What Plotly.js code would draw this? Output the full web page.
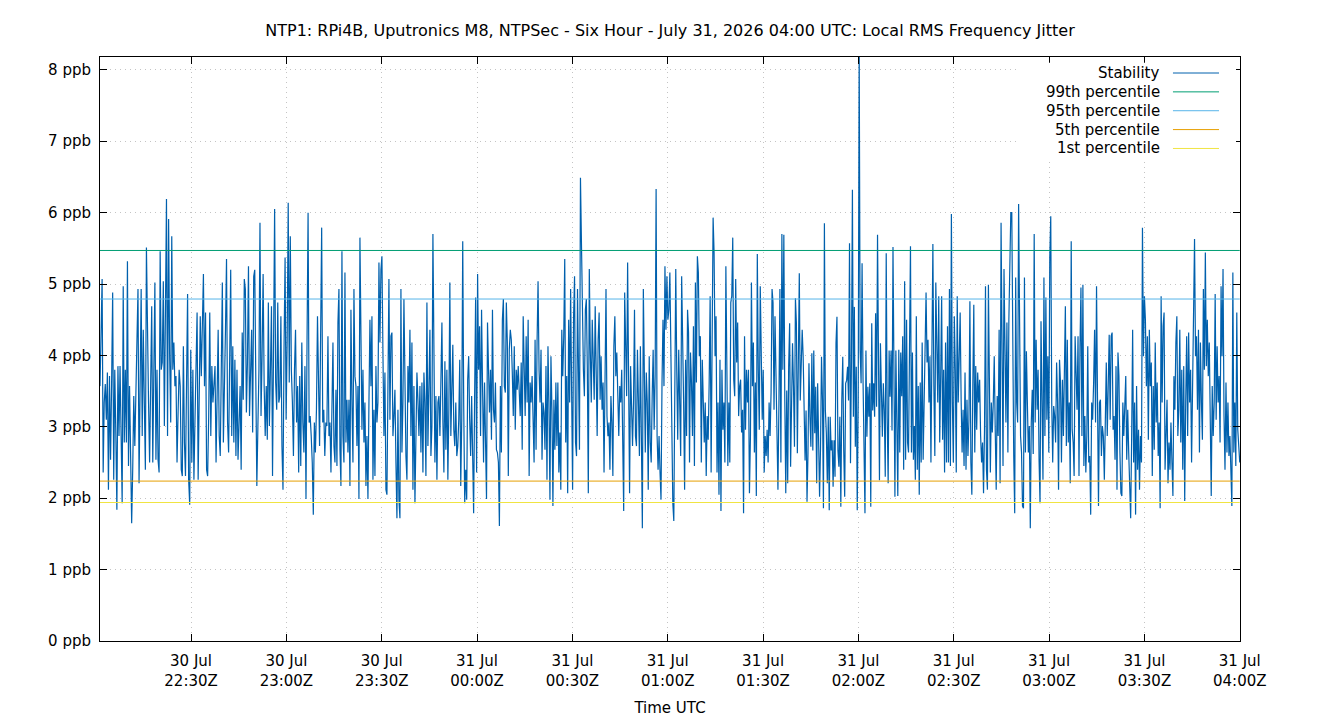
<!DOCTYPE html>
<html>
<head>
<meta charset="utf-8">
<script src="https://cdn.plot.ly/plotly-3.0.1.min.js"></script>
<style>
  html, body { margin: 0; padding: 0; background: #ffffff; }
  #chart { width: 1340px; height: 720px; }
</style>
</head>
<body>
<div id="chart"></div>
<script>
// Local RMS frequency jitter (ppb), six-hour window, in ten consecutive blocks
const jitterPart1 = [3.57, 4.2, 5.07, 2.36, 3.34, 3.6, 3.1, 3.76, 2.12, 3.71, 2.54, 3.6, 4.88, 2.26, 3.8, 2.9, 1.84, 3.85, 2.87, 3.85, 2.6, 1.93, 4.97, 2.78, 3.8, 2.78, 5.32, 2.45, 3.57, 2.17, 1.65, 2.4, 3.43, 2.73, 3.5, 4.55, 4.93, 2.21, 3.8, 4.93, 2.87, 4.36, 3.34, 2.4, 5.51, 4.1, 3.34, 2.5, 3.7, 4.69, 2.5, 3.8, 5.02, 2.54, 3.8, 2.54, 2.36, 5.46, 3.8, 3.9, 5.04, 3.01, 4.36, 6.19, 2.87, 5.91, 3.99, 3.06, 5.67, 3.8, 4.18, 3.57, 3.71, 2.5, 3.2, 3.8, 3.57, 2.4, 2.31, 4.13, 2.78, 2.31, 3.6, 4.86, 2.26, 1.91, 4.08, 2.5, 3.8, 2.26, 3.1, 3.8, 4.6, 2.26, 3.34, 4.55, 3.71, 4.27, 5.14, 3.57, 4.6, 2.4, 2.31, 3.15, 4.6, 2.87, 3.85, 3.34];
const jitterPart2 = [3.57, 3.85, 2.5, 3.4, 4.36, 2.87, 2.59, 3.8, 5.02, 2.78, 3.94, 4.36, 5.35, 3.06, 2.64, 3.9, 5.2, 2.87, 4.13, 2.78, 3.94, 2.59, 3.8, 2.54, 3.2, 3.57, 2.4, 4.32, 3.38, 5.07, 4.93, 3.2, 3.9, 5.25, 3.15, 3.85, 4.36, 2.92, 5.11, 5.2, 3.43, 2.17, 3.0, 3.8, 5.86, 3.15, 3.99, 5.14, 3.57, 2.87, 3.57, 2.82, 4.74, 3.01, 3.8, 4.69, 2.31, 4.2, 6.05, 3.62, 3.24, 4.74, 3.34, 3.43, 4.55, 2.73, 2.12, 4.1, 5.37, 3.1, 4.22, 6.14, 3.62, 5.67, 3.8, 3.34, 2.59, 3.8, 4.36, 3.06, 3.57, 2.36, 3.71, 2.45, 4.18, 3.06, 2.64, 3.85, 1.99, 4.2, 6.0, 3.06, 3.15, 2.87, 2.5, 1.77, 3.06, 2.64, 3.24, 4.55, 3.34, 2.73, 4.3, 5.79, 3.06, 3.24, 2.59, 3.06, 3.01];
const jitterPart3 = [4.27, 2.87, 3.06, 2.36, 3.1, 4.18, 2.73, 2.5, 3.52, 2.45, 4.46, 4.93, 2.68, 2.17, 5.46, 2.87, 2.5, 5.16, 2.78, 3.38, 2.64, 3.38, 2.17, 4.64, 3.34, 2.5, 4.93, 3.71, 3.57, 2.73, 3.57, 1.99, 5.65, 3.52, 2.96, 3.8, 2.78, 3.34, 2.17, 2.87, 1.99, 3.34, 4.5, 3.57, 4.55, 2.26, 3.24, 2.31, 3.85, 3.06, 3.34, 5.3, 4.18, 5.2, 5.39, 4.04, 2.87, 3.76, 2.12, 2.05, 3.43, 5.07, 3.1, 4.27, 4.32, 2.87, 3.15, 3.52, 2.5, 1.72, 3.24, 1.98, 1.72, 4.93, 2.64, 3.34, 4.79, 3.62, 2.59, 2.26, 3.85, 3.34, 4.36, 2.87, 4.18, 2.12, 3.57, 1.93, 3.34, 3.76, 3.38, 2.87, 3.57, 2.64, 3.62, 2.36, 3.76, 3.34, 2.31, 4.74, 2.73, 3.34, 4.36, 2.59, 3.01, 5.7, 3.99, 2.5, 3.43, 2.26, 3.34, 3.43, 2.87, 3.62];
const jitterPart4 = [4.46, 3.06, 2.36, 3.92, 2.68, 3.8, 2.26, 3.24, 5.02, 2.87, 3.57, 4.15, 2.96, 2.73, 3.34, 2.59, 2.73, 3.1, 3.94, 2.17, 3.1, 5.6, 3.29, 1.93, 2.4, 1.98, 3.66, 3.99, 3.1, 2.59, 3.43, 2.17, 1.79, 3.43, 4.81, 2.36, 5.14, 3.8, 4.41, 2.87, 4.64, 3.57, 2.5, 3.62, 2.87, 1.99, 4.46, 3.8, 3.2, 3.8, 2.82, 4.64, 3.24, 3.06, 3.62, 2.68, 2.64, 2.5, 1.61, 3.57, 2.64, 4.5, 4.79, 3.57, 3.48, 4.74, 4.18, 2.31, 4.08, 4.36, 4.22, 3.76, 3.15, 4.13, 2.96, 3.8, 3.52, 3.85, 3.43, 3.15, 3.9, 2.68, 4.55, 3.71, 3.15, 4.27, 3.34, 4.5, 2.31, 3.62, 3.34, 3.71, 2.96, 2.5, 4.22, 2.68, 4.18, 5.04, 3.8, 3.34, 4.08, 2.54, 3.34, 3.2, 2.68, 3.85, 2.26, 4.13, 3.34, 1.98, 3.99, 3.24, 1.89, 3.38, 2.68];
const jitterPart5 = [3.62, 2.73, 3.62, 2.36, 2.92, 2.12, 4.36, 3.71, 4.27, 5.35, 2.78, 3.71, 2.07, 4.5, 3.34, 4.93, 3.34, 2.12, 4.55, 5.11, 2.78, 2.59, 4.93, 3.34, 2.68, 6.49, 5.49, 4.88, 3.8, 3.43, 4.64, 4.79, 3.8, 2.07, 5.21, 4.08, 3.34, 4.5, 3.9, 3.38, 4.69, 3.8, 2.87, 4.22, 4.6, 3.38, 3.99, 3.24, 3.62, 2.36, 3.57, 4.93, 3.15, 2.87, 3.06, 2.4, 3.43, 3.06, 2.31, 4.13, 4.55, 3.71, 4.04, 3.29, 2.87, 3.57, 3.34, 3.8, 2.59, 1.82, 4.88, 3.85, 3.43, 5.3, 3.06, 2.07, 3.85, 3.1, 2.73, 3.34, 4.64, 2.87, 2.73, 4.08, 3.43, 2.59, 4.13, 2.21, 1.58, 4.93, 3.34, 2.64, 3.76, 3.34, 2.12, 3.99, 2.78, 2.5, 3.43, 4.08, 2.96, 3.71, 6.33, 2.87, 2.4, 2.87, 2.36, 1.98, 3.62, 4.5, 3.57, 5.25, 4.36, 5.11, 4.5, 4.64];
const jitterPart6 = [5.16, 3.8, 2.59, 1.93, 1.68, 3.34, 5.21, 3.8, 2.82, 4.08, 3.24, 2.59, 5.11, 4.32, 3.34, 2.12, 3.94, 2.87, 4.64, 4.32, 2.5, 4.04, 3.62, 2.87, 4.41, 2.45, 5.02, 3.62, 5.39, 5.16, 3.99, 4.27, 2.5, 3.94, 3.52, 2.78, 3.34, 2.31, 3.15, 2.82, 3.62, 4.83, 2.36, 4.6, 5.93, 5.44, 3.99, 4.55, 2.36, 3.34, 2.05, 3.94, 1.82, 3.8, 2.96, 3.34, 2.5, 5.25, 3.34, 2.45, 3.34, 2.5, 4.74, 4.83, 5.65, 3.66, 3.43, 5.07, 3.9, 4.46, 3.15, 3.57, 3.66, 2.92, 3.24, 1.79, 4.27, 2.96, 3.8, 3.34, 3.8, 2.07, 2.87, 5.02, 3.57, 4.18, 2.64, 3.62, 2.03, 5.42, 3.8, 2.96, 4.97, 3.66, 3.1, 3.8, 2.36, 2.87, 2.59, 2.96, 2.5, 3.34, 2.87, 3.48, 4.93, 4.74, 3.24, 4.55, 3.71, 2.59, 2.12, 3.34, 4.93, 2.5, 5.7, 3.8];
const jitterPart7 = [5.69, 3.37, 2.07, 3.51, 2.21, 3.84, 4.45, 2.44, 3.61, 4.17, 3.56, 2.72, 4.8, 4.45, 2.63, 3.84, 5.15, 3.37, 3.98, 4.36, 3.98, 2.95, 2.53, 3.23, 1.95, 2.63, 3.89, 3.14, 2.72, 4.03, 2.67, 4.07, 2.91, 3.56, 2.21, 3.61, 2.67, 2.02, 2.72, 3.98, 3.37, 1.86, 5.85, 3.23, 2.91, 2.21, 3.14, 1.83, 3.14, 2.67, 2.81, 2.16, 2.81, 2.3, 4.17, 4.54, 2.67, 2.44, 3.14, 1.88, 3.37, 3.98, 2.67, 2.02, 3.61, 3.65, 3.84, 3.37, 5.57, 2.49, 3.93, 6.32, 3.14, 4.68, 2.72, 3.84, 1.83, 3.37, 8.35, 4.07, 3.61, 5.29, 3.65, 2.67, 1.79, 4.07, 2.86, 3.56, 3.14, 3.61, 1.88, 4.45, 3.23, 3.61, 3.14, 4.59, 3.28, 5.69, 4.07, 2.25, 4.17, 3.14, 2.86, 3.61, 3.23, 2.3, 5.43, 3.14, 2.21, 4.07, 3.42, 4.07, 2.95, 5.52, 3.61, 2.02, 4.07, 2.95];
const jitterPart8 = [2.03, 4.08, 2.64, 4.04, 3.43, 4.27, 2.4, 5.04, 2.54, 4.5, 2.78, 2.64, 3.71, 5.53, 2.64, 4.04, 2.54, 3.01, 2.26, 4.55, 2.4, 3.57, 2.05, 3.62, 2.5, 4.18, 2.54, 3.48, 4.27, 4.88, 3.9, 4.22, 3.34, 3.99, 2.5, 4.74, 5.56, 3.57, 2.59, 5.02, 3.8, 3.34, 4.83, 2.78, 3.71, 4.83, 2.82, 3.8, 2.36, 4.18, 2.5, 4.41, 2.5, 4.93, 2.45, 5.98, 3.34, 2.5, 4.55, 3.8, 2.36, 4.83, 3.34, 3.8, 4.6, 3.38, 2.64, 3.24, 2.45, 3.76, 2.4, 3.38, 2.59, 3.1, 4.76, 2.5, 2.05, 3.57, 4.71, 2.64, 3.85, 2.96, 3.76, 3.34, 3.66, 2.87, 2.5, 2.78, 2.07, 2.96, 4.97, 2.4, 2.12, 4.99, 3.1, 2.36, 3.34, 2.92, 3.34, 3.99, 2.96, 2.12, 3.43, 2.87, 4.36, 2.21, 5.86, 3.34, 2.45, 5.21, 3.62, 3.06, 4.46, 2.64, 4.5, 5.67, 6.0];
const jitterPart9 = [6.0, 3.85, 2.59, 1.79, 5.09, 3.34, 3.06, 6.12, 4.36, 2.87, 2.64, 1.89, 1.86, 5.09, 2.64, 4.06, 3.34, 2.64, 3.01, 1.58, 3.06, 3.52, 2.62, 5.7, 3.06, 4.22, 3.24, 3.8, 2.54, 1.93, 4.48, 2.68, 2.26, 5.09, 2.87, 4.81, 3.1, 3.99, 2.64, 5.37, 5.95, 3.34, 2.5, 3.29, 3.15, 2.78, 3.9, 3.34, 2.12, 3.94, 3.62, 2.5, 3.66, 2.87, 3.62, 4.69, 2.73, 4.22, 2.78, 3.34, 2.21, 5.6, 2.96, 2.78, 2.31, 4.27, 3.76, 3.24, 4.27, 2.31, 4.13, 4.95, 2.87, 4.99, 2.45, 3.15, 2.36, 2.87, 4.13, 2.5, 2.59, 1.77, 3.34, 3.1, 3.62, 4.36, 3.06, 4.97, 3.38, 1.89, 3.34, 3.38, 2.59, 3.01, 2.87, 2.26, 3.06, 3.9, 2.87, 3.99, 4.29, 3.1, 4.27, 4.32, 2.96, 3.15, 2.54, 3.85, 2.12, 4.04, 3.71, 2.64, 2.07, 2.03, 3.34, 2.87, 3.34];
const jitterPart10 = [3.71, 2.54, 3.24, 2.64, 2.17, 1.72, 2.87, 4.36, 2.5, 3.34, 1.77, 3.57, 2.4, 2.96, 2.12, 2.87, 2.5, 5.79, 3.99, 4.83, 4.5, 3.57, 4.27, 2.82, 4.36, 3.57, 3.9, 2.31, 3.57, 2.68, 4.18, 3.06, 3.62, 2.59, 3.06, 1.86, 4.83, 3.34, 4.41, 4.6, 2.4, 2.87, 3.38, 2.21, 2.78, 2.4, 3.06, 2.5, 2.03, 3.71, 3.24, 4.18, 4.55, 2.87, 3.24, 4.36, 2.78, 3.8, 2.4, 3.85, 1.96, 3.34, 4.27, 2.87, 4.32, 3.34, 3.8, 2.5, 3.85, 4.93, 5.63, 3.99, 4.27, 3.24, 4.36, 2.64, 4.18, 3.34, 2.82, 4.93, 3.8, 5.44, 3.85, 4.5, 3.71, 4.18, 2.78, 2.03, 3.57, 2.87, 3.34, 4.86, 3.1, 4.13, 3.34, 3.71, 2.78, 4.97, 3.99, 5.21, 3.15, 2.4, 3.62, 2.64, 3.34, 2.59, 2.87, 2.4, 1.89, 5.16, 2.64, 3.34, 2.45, 4.6, 2.96, 2.5];

// Percentile levels (ppb)
const percentileNames = ['99th percentile', '95th percentile', '5th percentile', '1st percentile'];
const percentileValues = [5.47, 4.79, 2.24, 1.94];
const percentileColors = ['#009e73', '#56b4e9', '#e69f00', '#f0e442'];
const stabilityColor = '#0060ad';

// Time window
const windowStart = Date.UTC(2026, 6, 30, 22, 1, 21);
const windowEnd = Date.UTC(2026, 6, 31, 4, 0, 0);

// X axis ticks
const tickTimes = ['2026-07-30 22:30', '2026-07-30 23:00', '2026-07-30 23:30', '2026-07-31 00:00',
  '2026-07-31 00:30', '2026-07-31 01:00', '2026-07-31 01:30', '2026-07-31 02:00',
  '2026-07-31 02:30', '2026-07-31 03:00', '2026-07-31 03:30', '2026-07-31 04:00'];
const tickLabels = ['30 Jul<br>22:30Z', '30 Jul<br>23:00Z', '30 Jul<br>23:30Z', '31 Jul<br>00:00Z',
  '31 Jul<br>00:30Z', '31 Jul<br>01:00Z', '31 Jul<br>01:30Z', '31 Jul<br>02:00Z',
  '31 Jul<br>02:30Z', '31 Jul<br>03:00Z', '31 Jul<br>03:30Z', '31 Jul<br>04:00Z'];

// Each block covers an equal share of the window; samples are evenly spaced inside it
const parts = [jitterPart1, jitterPart2, jitterPart3, jitterPart4, jitterPart5,
  jitterPart6, jitterPart7, jitterPart8, jitterPart9, jitterPart10];
const partSpan = (windowEnd - windowStart) / parts.length;
const sampleTimes = [];
const sampleValues = [];
parts.forEach((part, k) => {
  part.forEach((v, i) => {
    sampleTimes.push(windowStart + k * partSpan + i * partSpan / part.length);
    sampleValues.push(v);
  });
});
sampleTimes[sampleTimes.length - 1] = windowEnd;

const FONT = 'DejaVu Sans, Verdana, sans-serif';
const GRID_DASH = '1px,4px';

const traces = [{
  x: sampleTimes, y: sampleValues, type: 'scatter', mode: 'lines',
  name: 'Stability', line: { color: stabilityColor, width: 1.2 }, showlegend: false
}];
percentileValues.forEach((v, i) => {
  traces.push({
    x: [windowStart, windowEnd], y: [v, v], type: 'scatter', mode: 'lines',
    name: percentileNames[i], line: { color: percentileColors[i], width: 1 }, showlegend: false
  });
});

// Key in the upper-right corner: label on the left, line sample on the right
const keyNames = ['Stability'].concat(percentileNames);
const keyColors = [stabilityColor].concat(percentileColors);
const keyTop = 0.9726, keyStep = 0.0323;
const shapes = [{
  type: 'rect', xref: 'paper', yref: 'paper', x0: 0.805, x1: 0.9965, y0: 0.825, y1: 0.99,
  fillcolor: '#ffffff', line: { width: 0 }, layer: 'above'
}];
const annotations = [];
keyNames.forEach((name, i) => {
  const yy = keyTop - i * keyStep;
  annotations.push({
    xref: 'paper', yref: 'paper', x: 0.9316, y: yy, xanchor: 'right', yanchor: 'middle',
    text: name, showarrow: false, font: { family: FONT, size: 15, color: '#000000' }
  });
  shapes.push({
    type: 'line', xref: 'paper', yref: 'paper', x0: 0.9412, x1: 0.9816, y0: yy, y1: yy,
    line: { color: keyColors[i], width: 1 }, layer: 'above'
  });
});

const layout = {
  width: 1340, height: 720,
  margin: { l: 100, r: 100, t: 57, b: 79 },
  paper_bgcolor: '#ffffff', plot_bgcolor: '#ffffff',
  font: { family: FONT, size: 15, color: '#000000' },
  title: {
    text: 'NTP1: RPi4B, Uputronics M8, NTPSec - Six Hour - July 31, 2026 04:00 UTC: Local RMS Frequency Jitter',
    x: 0.5, xref: 'container', y: 0.958, yref: 'container', yanchor: 'middle',
    font: { family: FONT, size: 16, color: '#000000' }
  },
  xaxis: {
    type: 'date', range: [windowStart, windowEnd + 5000],
    tickmode: 'array', tickvals: tickTimes, ticktext: tickLabels,
    ticks: 'inside', ticklen: 7, tickcolor: '#000000', mirror: 'allticks',
    showline: true, linecolor: '#000000', linewidth: 1,
    showgrid: true, gridcolor: '#c4c4c4', griddash: GRID_DASH, gridwidth: 1,
    zeroline: false, ticklabelstandoff: 6,
    title: { text: 'Time UTC', font: { family: FONT, size: 15 }, standoff: 13 },
    tickfont: { family: FONT, size: 15 }
  },
  yaxis: {
    range: [0, 8.18], tickmode: 'linear', tick0: 0, dtick: 1, ticksuffix: ' ppb',
    ticks: 'inside', ticklen: 7, tickcolor: '#000000', mirror: 'allticks',
    showline: true, linecolor: '#000000', linewidth: 1,
    showgrid: true, gridcolor: '#c4c4c4', griddash: GRID_DASH, gridwidth: 1,
    zeroline: false, ticklabelstandoff: 5,
    tickfont: { family: FONT, size: 15 }
  },
  shapes: shapes,
  annotations: annotations,
  showlegend: false
};

Plotly.newPlot('chart', traces, layout, { displayModeBar: false, staticPlot: true });
</script>
</body>
</html>
